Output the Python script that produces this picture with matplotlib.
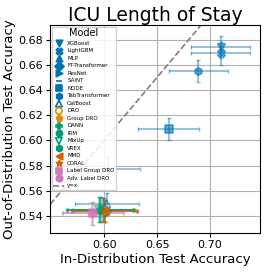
import matplotlib
matplotlib.use("Agg")
import matplotlib.pyplot as plt

# seaborn "colorblind" colours
BLUE = "#0173b2"
ORANGE = "#de8f05"
GREEN = "#029e73"
RED = "#d55e00"
PINK = "#cc78bc"

models = ["XGBoost", "LightGBM", "MLP", "FT-Transformer", "ResNet", "SAINT",
          "NODE", "TabTransformer", "CatBoost", "DRO", "Group DRO", "DANN",
          "IRM", "MixUp", "VREX", "MMD", "CORAL", "Label Group DRO",
          "Adv. Label DRO"]
id_acc = [0.710, 0.710, 0.600, 0.601, 0.599, 0.604, 0.661, 0.689, 0.6025,
          0.600, 0.601, 0.597, 0.596, 0.595, 0.596, 0.601, 0.600, 0.590, 0.589]
ood_acc = [0.674, 0.669, 0.545, 0.544, 0.545, 0.577, 0.609, 0.655, 0.5495,
           0.544, 0.544, 0.545, 0.545, 0.545, 0.545, 0.544, 0.544, 0.542, 0.542]
id_err = [0.028, 0.028, 0.029, 0.029, 0.029, 0.030, 0.029, 0.028, 0.030,
          0.031, 0.031, 0.031, 0.031, 0.031, 0.031, 0.031, 0.031, 0.029, 0.029]
ood_err = [0.009, 0.009, 0.009, 0.009, 0.009, 0.010, 0.009, 0.009, 0.009,
           0.009, 0.009, 0.010, 0.010, 0.010, 0.010, 0.009, 0.009, 0.009, 0.009]

colors = [BLUE] * 9 + [ORANGE] * 2 + [GREEN] * 4 + [RED] * 2 + [PINK] * 2
markers = ["v", "X", "^", "D", ">", "_", "s", "h", "^", "o", "p", "P", "8",
           "v", "h", "<", "*", "s", "o"]
hollow = ["CatBoost", "DRO", "MixUp"]

fig = plt.figure(figsize=(2.66, 2.73), dpi=100)
ax = fig.add_axes([0.188, 0.147, 0.789, 0.761])

for i, m in enumerate(models):
    ax.errorbar(id_acc[i], ood_acc[i], xerr=id_err[i], yerr=ood_err[i],
                fmt="none", ecolor=colors[i], alpha=0.5, capsize=1.5,
                elinewidth=1.2, capthick=1)
    fc = "none" if m in hollow else colors[i]
    ax.scatter(id_acc[i], ood_acc[i], marker=markers[i], s=30,
               facecolors=fc, edgecolors=colors[i], alpha=0.6,
               linewidths=1.2, label=m, zorder=3)

ax.plot([0.5, 0.8], [0.5, 0.8], ls="--", color="gray", lw=1.2, label="y=x")

ax.set_xlim(0.549, 0.747)
ax.set_ylim(0.5265, 0.6915)
ax.set_xticks([0.60, 0.65, 0.70])
ax.set_yticks([0.54, 0.56, 0.58, 0.60, 0.62, 0.64, 0.66, 0.68])
ax.tick_params(labelsize=8, length=3, pad=2)
ax.grid(True, color="#b0b0b0", lw=0.8)
ax.set_axisbelow(True)

ax.set_title("ICU Length of Stay", fontsize=13.5, pad=3)
ax.set_xlabel("In-Distribution Test Accuracy", fontsize=9.5, labelpad=2)
ax.set_ylabel("Out-of-Distribution Test Accuracy", fontsize=9.5, labelpad=2)

leg = ax.legend(title="Model", loc="upper left", fontsize=4, title_fontsize=7,
                markerscale=0.85, labelspacing=0.45, handletextpad=0.5,
                borderpad=0.3, borderaxespad=0.3, framealpha=0.85)
for h in leg.legend_handles:
    h.set_alpha(1)

fig.savefig("out.png", dpi=100)
